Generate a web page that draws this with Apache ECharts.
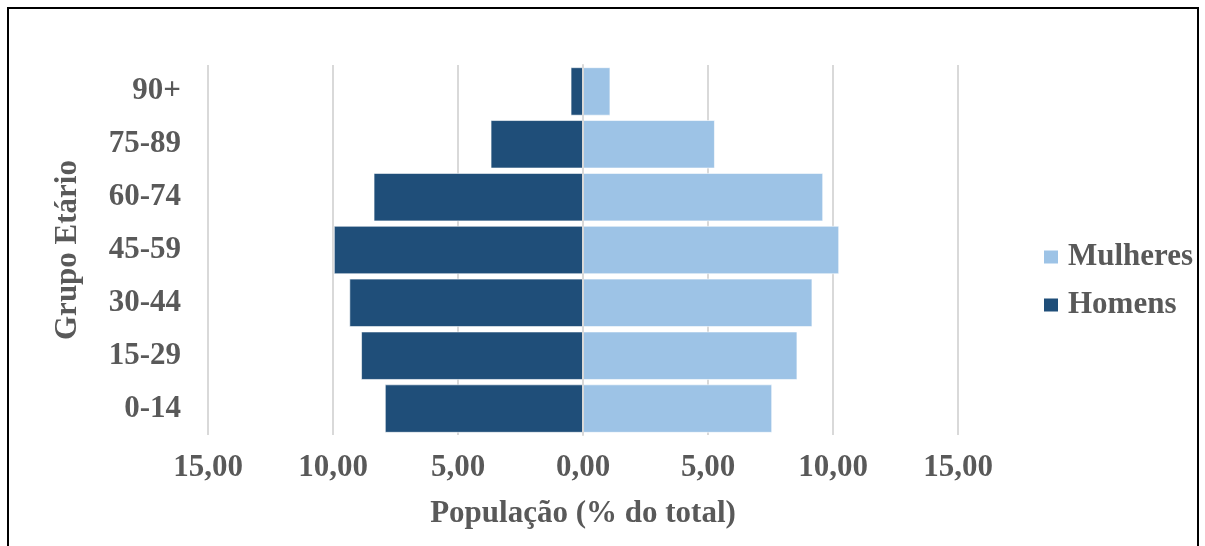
<!DOCTYPE html>
<html>
<head>
<meta charset="utf-8">
<style>
  html, body { margin: 0; padding: 0; background: #ffffff; }
  #chart { width: 1205px; height: 546px; }
</style>
<script src="https://cdn.jsdelivr.net/npm/echarts@6/dist/echarts.min.js"></script>
</head>
<body>
<div id="chart"></div>
<script>
// Age groups, bottom to top
const ageGroups = ['0-14', '15-29', '30-44', '45-59', '60-74', '75-89', '90+'];
// Share of the total population (%)
const homens   = [7.92, 8.87, 9.34, 9.96, 8.37, 3.69, 0.49];
const mulheres = [7.56, 8.57, 9.17, 10.24, 9.60, 5.27, 1.09];

const textGrey = '#595959';
const fontFamily = '"Liberation Serif", "Times New Roman", serif';
const fontSize = 31;

// Ticks show magnitude only, with a decimal comma
function fmt(v) {
  return Math.abs(v).toFixed(2).replace('.', ',');
}

const boldText = {
  color: textGrey,
  fontFamily: fontFamily,
  fontWeight: 'bold',
  fontSize: fontSize
};

const chart = echarts.init(document.getElementById('chart'), null, { renderer: 'canvas' });

chart.setOption({
  backgroundColor: '#ffffff',
  animation: false,
  textStyle: { fontFamily: fontFamily },
  graphic: [{
    type: 'rect',
    shape: { x: 8, y: 8, width: 1190, height: 580 },
    style: { fill: 'none', stroke: '#000000', lineWidth: 2 },
    silent: true,
    z: 100
  }],
  legend: {
    orient: 'vertical',
    left: 1037,
    top: 236,
    itemWidth: 16,
    itemHeight: 15,
    itemGap: 16,
    icon: 'rect',
    data: ['Mulheres', 'Homens'],
    textStyle: Object.assign({}, boldText, { lineHeight: 32, padding: [0, 0, 0, 4] })
  },
  grid: {
    left: 208,
    top: 65,
    width: 750,
    height: 370,
    containLabel: false
  },
  xAxis: {
    type: 'value',
    min: -15,
    max: 15,
    interval: 5,
    name: 'População (% do total)',
    nameLocation: 'middle',
    nameGap: 63,
    nameTextStyle: boldText,
    axisLine: { show: false },
    axisTick: { show: false },
    axisLabel: Object.assign({}, boldText, { margin: 17, formatter: fmt }),
    splitLine: { show: true, lineStyle: { color: '#d9d9d9', width: 2 } }
  },
  yAxis: {
    type: 'category',
    data: ageGroups,
    z: 10,
    name: 'Grupo Etário',
    nameLocation: 'middle',
    nameGap: 125,
    nameRotate: 90,
    nameTextStyle: boldText,
    axisLine: { show: true, onZero: true, lineStyle: { color: '#d9d9d9', width: 2 } },
    axisTick: { show: false },
    axisLabel: Object.assign({}, boldText, { margin: 27, interval: 0 }),
    splitLine: { show: false }
  },
  series: [
    {
      name: 'Homens',
      type: 'bar',
      stack: 'piramide',
      barCategoryGap: '9%',
      data: homens.map(v => -v),
      itemStyle: { color: '#1f4e79', borderColor: '#ffffff', borderWidth: 0.6 }
    },
    {
      name: 'Mulheres',
      type: 'bar',
      stack: 'piramide',
      barCategoryGap: '9%',
      data: mulheres,
      itemStyle: { color: '#9dc3e6', borderColor: '#ffffff', borderWidth: 0.6 }
    }
  ]
});
</script>
</body>
</html>
